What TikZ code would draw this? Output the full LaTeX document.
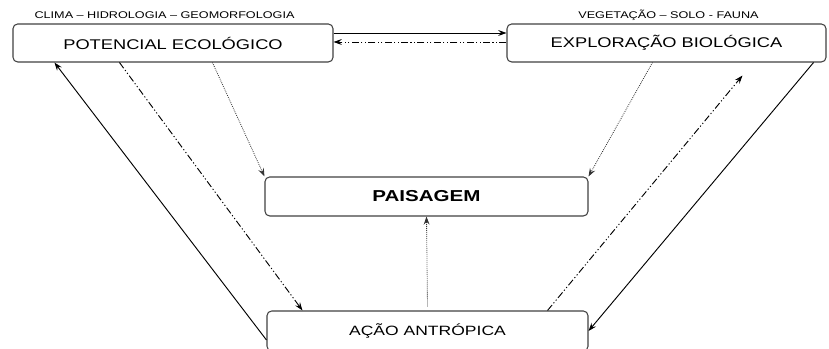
\documentclass[tikz,border=0pt]{standalone}
\usepackage{fontspec}
\setmainfont{Liberation Sans}[FakeStretch=1.3]
\usetikzlibrary{arrows,arrows.meta,positioning,calc}
\usepackage{xcolor}

\begin{document}
\begin{tikzpicture}[x=0.03cm, y=-0.03cm, auto,
            caixa/.style={
                rectangle,
                rounded corners=4pt,
                draw=black!75,
                line width=0.9pt,
                inner sep=2pt
            },
            ponta/.style={-{Stealth[length=7pt, width=5pt, inset=2.5pt]}},
            linha/.style={ponta, line width=0.8pt},
            tracoponto/.style={ponta, line width=0.8pt, dash pattern=on 6pt off 2pt on 1pt off 2pt on 1pt off 2pt},
            pontilhado/.style={ponta, line width=0.7pt, densely dotted, black!80}
        ]
        \useasboundingbox (0,0) rectangle (829,349);

        \node (1) [
            caixa,
            minimum width=9.6cm,
            minimum height=1.14cm
        ] at (173,43)
        {
            \fontsize{12}{14}\selectfont POTENCIAL ECOLÓGICO
        };

        \node (2) [
            caixa,
            minimum width=9.57cm,
            minimum height=1.14cm
        ] at (666.5,43)
        {
            \fontsize{12}{14}\selectfont EXPLORAÇÃO BIOLÓGICA
        };

        \node (3) [
            caixa,
            minimum width=9.69cm,
            minimum height=1.17cm
        ] at (426.5,196.5)
        {
            \fontsize{13.5}{16}\selectfont\bfseries PAISAGEM
        };

        \node (4) [
            caixa,
            minimum width=9.63cm,
            minimum height=1.2cm
        ] at (427.5,331)
        {
            \fontsize{11.5}{14}\selectfont AÇÃO ANTRÓPICA
        };

        \node (5) at (164.5,15)
        {
            \fontsize{8.3}{10}\selectfont CLIMA – HIDROLOGIA – GEOMORFOLOGIA
        };

        \node (6) at (668.5,15)
        {
            \fontsize{8.3}{10}\selectfont VEGETAÇÃO – SOLO - FAUNA
        };

        \draw[linha] ($(1.east)+(0,-10)$) to ($(2.west)+(0,-10)$);
        \draw[tracoponto] ($(2.west)+(0,-1)$) to ($(1.east)+(0,-1)$);
        \draw[pontilhado] ($(1.south west)+(200,0)$) to (3.north west);
        \draw[pontilhado] ($(2.south west)+(146,0)$) to (3.north east);
        \draw[tracoponto] ($(1.south west)+(107,0)$) to ($(4.north west)+(36,0)$);
        \draw[linha] ($(4.west)+(0,9)$) to ($(1.south west)+(42,0)$);
        \draw[tracoponto] ($(4.north east)+(-41,0)$) to ($(2.south west)+(236,13)$);
        \draw[linha] ($(2.south east)+(-13,0)$) to (4.east);
        \draw[pontilhado] ($(4.north)+(0,-4)$) to (3.south);
    \end{tikzpicture}
\end{document}
